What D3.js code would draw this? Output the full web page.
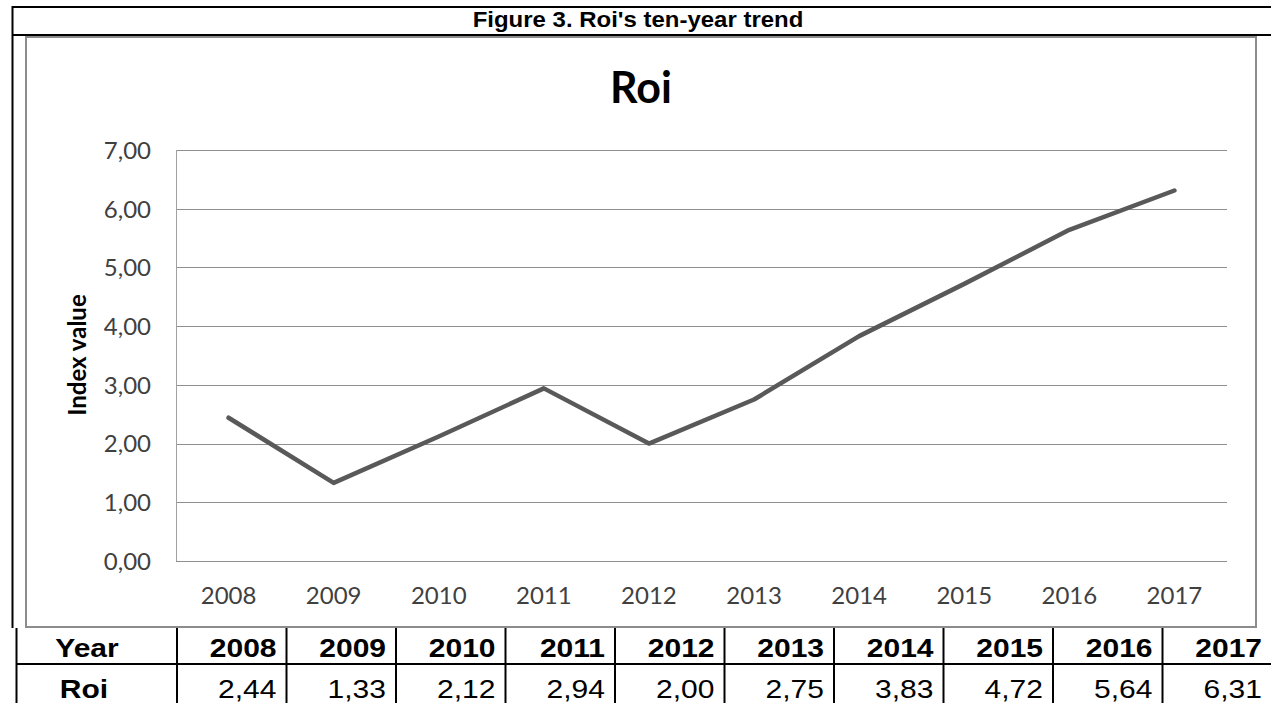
<!DOCTYPE html>
<html>
<head>
<meta charset="utf-8">
<script src="https://cdn.jsdelivr.net/npm/d3@7"></script>
<style>
  body { margin: 0; background: #fff; }
  svg { display: block; }
</style>
</head>
<body>
<svg id="mysvg" width="1271" height="703"></svg>
<script>
var years = ["2008", "2009", "2010", "2011", "2012", "2013", "2014", "2015", "2016", "2017"];
var roi = [2.44, 1.33, 2.12, 2.94, 2.00, 2.75, 3.83, 4.72, 5.64, 6.31];
var yTicks = [0, 1, 2, 3, 4, 5, 6, 7];

var svg = d3.select("#mysvg");
var fmt = function(v){ return d3.format(".2f")(v).replace(".", ","); };

// outer document frame (header band)
svg.append("line").attr("x1", 12).attr("x2", 1271).attr("y1", 7).attr("y2", 7)
   .attr("stroke", "#000").attr("stroke-width", 2);
svg.append("line").attr("x1", 12).attr("x2", 1271).attr("y1", 35).attr("y2", 35)
   .attr("stroke", "#000").attr("stroke-width", 2);
svg.append("line").attr("x1", 12.5).attr("x2", 12.5).attr("y1", 6).attr("y2", 628)
   .attr("stroke", "#000").attr("stroke-width", 2);

svg.append("text").attr("transform", "translate(638,27) scale(1.09,1)")
   .attr("text-anchor", "middle")
   .style("font-family", "Liberation Sans, Arial, sans-serif")
   .style("font-weight", "bold").style("font-size", "22px")
   .text("Figure 3. Roi's ten-year trend");

// chart frame
svg.append("rect").attr("x", 26).attr("y", 37).attr("width", 1230).attr("height", 590)
   .attr("fill", "#fff").attr("stroke", "#8c8c8c").attr("stroke-width", 2);

svg.append("text").attr("x", 641).attr("y", 103)
   .attr("text-anchor", "middle")
   .style("font-family", "Lato, sans-serif")
   .style("font-weight", "bold").style("font-size", "43px")
   .text("Roi");

var plotL = 176, plotR = 1227, plotT = 150, plotB = 561;

var x = d3.scaleBand().domain(years).range([plotL, plotR]);
var y = d3.scaleLinear().domain([0, 7]).range([plotB, plotT]);

var g = svg.append("g");

// gridlines
g.selectAll(".grid").data(yTicks).enter().append("line")
 .attr("x1", plotL).attr("x2", plotR)
 .attr("y1", function(d){ return Math.round(y(d)) + 0.5; })
 .attr("y2", function(d){ return Math.round(y(d)) + 0.5; })
 .attr("stroke", "#8f8f8f").attr("stroke-width", 1);

g.append("line").attr("x1", plotL + 0.5).attr("x2", plotL + 0.5)
 .attr("y1", plotT).attr("y2", plotB)
 .attr("stroke", "#a0a0a0").attr("stroke-width", 1);

// y axis labels
var yAxis = d3.axisLeft(y).tickValues(yTicks).tickFormat(fmt).tickSize(0).tickPadding(25);
var ya = g.append("g").attr("transform", "translate(" + plotL + ",0)").call(yAxis);
ya.select(".domain").remove();
ya.selectAll("text").style("font-family", "Lato, sans-serif").style("font-size", "24px")
  .attr("fill", "#404040").attr("dy", "0.35em");

// x axis labels
var xAxis = d3.axisBottom(x).tickSize(0).tickPadding(26);
var xa = g.append("g").attr("transform", "translate(0," + plotB + ")").call(xAxis);
xa.select(".domain").remove();
xa.selectAll("text").style("font-family", "Lato, sans-serif").style("font-size", "24px")
  .attr("fill", "#404040");

// axis title
svg.append("text")
   .attr("transform", "translate(86,355) rotate(-90)")
   .attr("text-anchor", "middle")
   .style("font-family", "Lato, sans-serif")
   .style("font-weight", "bold").style("font-size", "24px")
   .text("Index value");

// line
var line = d3.line()
  .x(function(d, i){ return x(years[i]) + x.bandwidth() / 2; })
  .y(function(d){ return y(d); });

g.append("path").datum(roi)
 .attr("d", line)
 .attr("fill", "none")
 .attr("stroke", "#595959")
 .attr("stroke-width", 4.5)
 .attr("stroke-linejoin", "round")
 .attr("stroke-linecap", "round");

// data table below the chart
var colEdges = [16.5, 177];
years.forEach(function(d, i){ colEdges.push(177 + (i + 1) * 109.5); });

var tbl = svg.append("g");
tbl.append("line").attr("x1", 16).attr("x2", 1271).attr("y1", 664).attr("y2", 664)
   .attr("stroke", "#000").attr("stroke-width", 2);
tbl.selectAll(".vline").data(colEdges.slice(0, 11)).enter().append("line")
   .attr("x1", function(d){ return d; }).attr("x2", function(d){ return d; })
   .attr("y1", 628).attr("y2", 703)
   .attr("stroke", "#000").attr("stroke-width", 2);

var cellFont = "Liberation Sans, Arial, sans-serif";
var sx = 1.2;
function cell(px, py, anchor, bold, txt){
  tbl.append("text")
     .attr("transform", "translate(" + px + "," + py + ") scale(" + sx + ",1)")
     .attr("text-anchor", anchor)
     .style("font-family", cellFont)
     .style("font-weight", bold ? "bold" : "normal")
     .style("font-size", "25px")
     .text(txt);
}

cell(87, 657, "middle", true, "Year");
cell(84, 698, "middle", true, "Roi");
years.forEach(function(d, i){ cell(colEdges[i + 2] - 10, 657, "end", true, d); });
roi.forEach(function(d, i){ cell(colEdges[i + 2] - 10, 698, "end", false, fmt(d)); });
</script>
</body>
</html>
